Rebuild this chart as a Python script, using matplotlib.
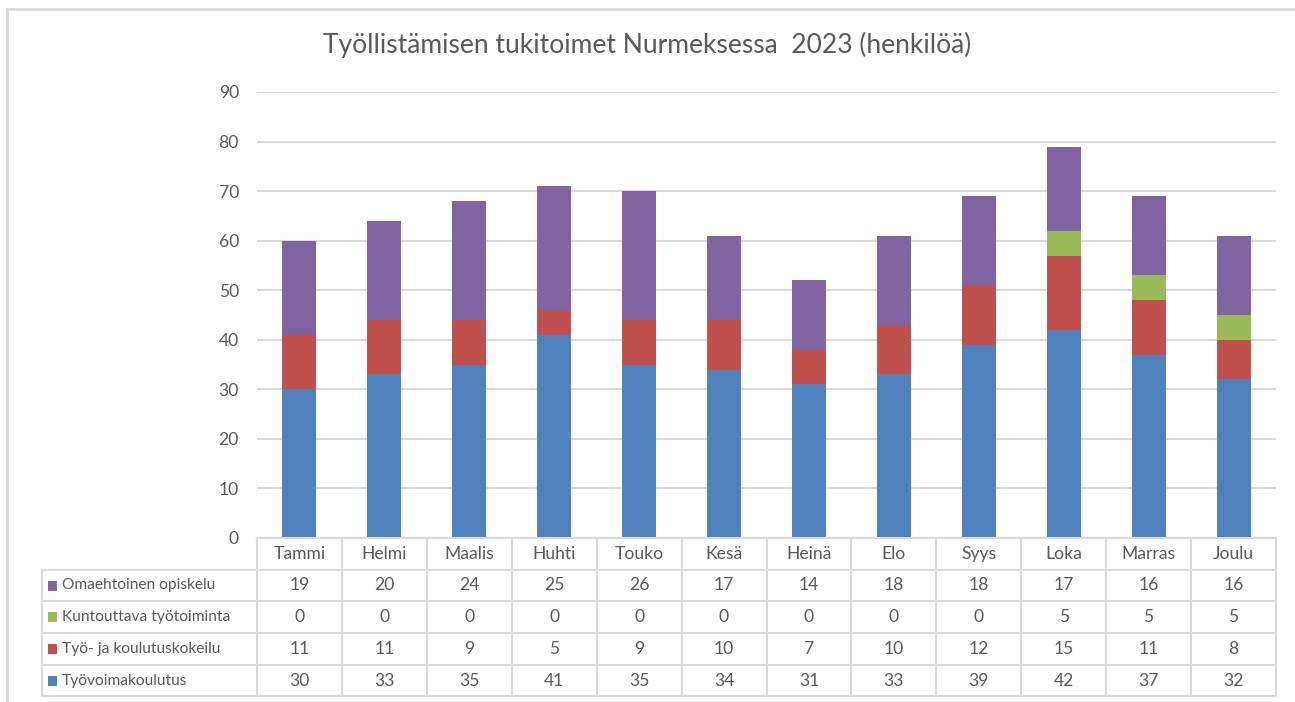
import matplotlib
matplotlib.use("Agg")
import matplotlib.pyplot as plt
from matplotlib.lines import Line2D
from matplotlib.patches import Rectangle
import matplotlib.transforms as mtransforms
import numpy as np

months = ["Tammi", "Helmi", "Maalis", "Huhti", "Touko", "Kesä", "Heinä", "Elo", "Syys", "Loka", "Marras", "Joulu"]
tyovoimakoulutus = [30, 33, 35, 41, 35, 34, 31, 33, 39, 42, 37, 32]
kokeilu = [11, 11, 9, 5, 9, 10, 7, 10, 12, 15, 11, 8]
kuntouttava = [0, 0, 0, 0, 0, 0, 0, 0, 0, 5, 5, 5]
omaehtoinen = [19, 20, 24, 25, 26, 17, 14, 18, 18, 17, 16, 16]
title = "Työllistämisen tukitoimet Nurmeksessa  2023 (henkilöä)"

series = [
    ("Työvoimakoulutus", tyovoimakoulutus, "#4F81BD"),
    ("Työ- ja koulutuskokeilu", kokeilu, "#C0504D"),
    ("Kuntouttava työtoiminta", kuntouttava, "#9BBB59"),
    ("Omaehtoinen opiskelu", omaehtoinen, "#8064A2"),
]

plt.rcParams['font.family'] = ['Lato', 'DejaVu Sans']
TXT = "#595959"
GRID = "#d9d9d9"
FS = 12.6

W, H = 1295, 702
fig = plt.figure(figsize=(W / 100, H / 100), dpi=100)
L, R, T, B = 257, 1276, 92, 538
ax = fig.add_axes([L / W, 1 - B / H, (R - L) / W, (B - T) / H])

x = np.arange(len(months))
bottom = np.zeros(len(months))
for name, vals, col in series:
    ax.bar(x, vals, 0.4, bottom=bottom, color=col, zorder=3)
    bottom += np.array(vals)

ax.set_xlim(-0.5, len(months) - 0.5)
ax.set_ylim(0, 90)
ax.set_yticks(range(0, 91, 10))
ax.yaxis.grid(True, color=GRID, linewidth=1.5, zorder=0)
ax.set_xticks([])
for s in ax.spines.values():
    s.set_visible(False)
ax.tick_params(axis='y', length=0, pad=13, labelsize=FS, labelcolor=TXT)

fig.text(0.5, 1 - 45 / H, title, ha='center', va='center', fontsize=19, color=TXT)

# figure frame
fig.add_artist(Rectangle((7 / W, -0.01), 1.1, 1 - 9 / H + 0.01, transform=fig.transFigure,
                         fill=False, edgecolor=GRID, linewidth=2))

# data table
def fy(py):
    return 1 - py / H

blend = mtransforms.blended_transform_factory(ax.transData, fig.transFigure)
header_top, header_bot = 538, 570
row_edges = [570, 601, 633, 665, 696]
tab_left = 42
lw = 1.5

fig.add_artist(Line2D([L / W, R / W], [fy(header_top)] * 2, transform=fig.transFigure, color=GRID, lw=lw))
for ye in row_edges:
    fig.add_artist(Line2D([tab_left / W, R / W], [fy(ye)] * 2, transform=fig.transFigure, color=GRID, lw=lw))
for i in range(len(months) + 1):
    fig.add_artist(Line2D([i - 0.5, i - 0.5], [fy(header_top), fy(row_edges[-1])], transform=blend, color=GRID, lw=lw))
fig.add_artist(Line2D([tab_left / W] * 2, [fy(row_edges[0]), fy(row_edges[-1])], transform=fig.transFigure, color=GRID, lw=lw))

for i, m in enumerate(months):
    fig.text(i, fy((header_top + header_bot) / 2), m, transform=blend, ha='center', va='center', fontsize=FS, color=TXT)

for r, (name, vals, col) in enumerate(series[::-1]):
    yc = fy((row_edges[r] + row_edges[r + 1]) / 2)
    fig.add_artist(Rectangle(((tab_left + 6) / W, yc - 5 / H), 9 / W, 10 / H, transform=fig.transFigure,
                             facecolor=col, edgecolor='none'))
    fig.text((tab_left + 20) / W, yc, name, ha='left', va='center', fontsize=11.2, color=TXT)
    for i, v in enumerate(vals):
        fig.text(i, yc, str(v), transform=blend, ha='center', va='center', fontsize=FS, color=TXT)

fig.savefig("out.png", dpi=100, facecolor='white')
